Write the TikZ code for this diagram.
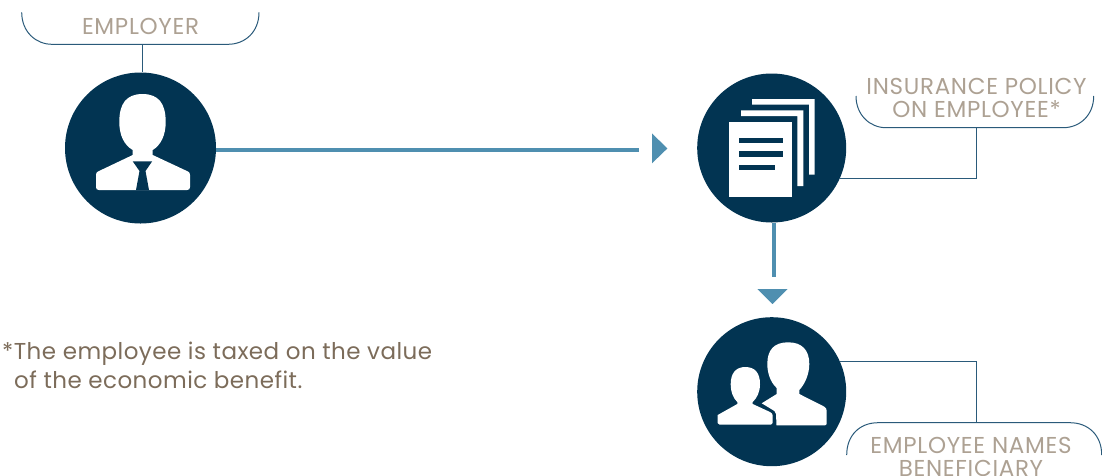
\documentclass[tikz,border=0pt]{standalone}
\usepackage{fontspec}
\setmainfont{Poppins}
\definecolor{navy}{HTML}{023452}
\definecolor{flow}{HTML}{4F8FB0}
\definecolor{thin}{HTML}{2A5A7A}
\definecolor{tan}{HTML}{ADA193}
\definecolor{note}{HTML}{7C6C5A}
\tikzset{
  disc/.style={circle,fill=navy,inner sep=0pt,minimum size=149pt},
  thinline/.style={draw=thin,line width=1pt},
  flowline/.style={draw=flow,line width=4pt},
  flowhead/.style={fill=flow},
  icon/.style={fill=white},
  hole/.style={fill=navy},
  tag/.style={text=tan,align=center,inner sep=0pt,font=\fontsize{23}{23.5}\selectfont\addfontfeatures{LetterSpace=3}},
  footnote/.style={text=note,align=left,inner sep=0pt,font=\fontsize{23}{29}\selectfont\addfontfeatures{LetterSpace=2}}
}
\begin{document}
\begin{tikzpicture}[x=1pt,y=-1pt]
\useasboundingbox (0,0) rectangle (1102,475);
% discs
\node[disc,minimum size=151pt] (emp) at (140.5,148) {};
\node[disc] (pol) at (771.7,148) {};
\node[disc] (ben) at (771.7,391.7) {};
% free ends
\coordinate (tagA) at (142,44.3);
\coordinate (tagB) at (976.7,127.7);
\coordinate (tagC) at (976,422.7);
\coordinate (endA) at (639,150);
\coordinate (endB) at (774,276.7);
% brackets
\draw[thinline] (21.7,12.3) .. controls (21.7,32) and (36,44.3) .. (52,44.3) -- (228,44.3) .. controls (245,44.3) and (259,32) .. (259,12.3);
\draw[thinline] (856,96) .. controls (856,115) and (870,127.7) .. (886,127.7) -- (1063,127.7) .. controls (1080,127.7) and (1093.7,115) .. (1093.7,96);
\draw[thinline] (846.7,455) .. controls (846.7,435) and (860,422.7) .. (878,422.7) -- (1070,422.7) .. controls (1088,422.7) and (1101.7,435) .. (1101.7,455);
% connectors
\draw[thinline] (tagA) -- (emp.north -| tagA);
\draw[thinline] (tagB) |- (pol.-24.6);
\draw[thinline] (tagC) |- (ben.24.6);
\draw[flowline] (emp.east |- endA) -- (endA);
\draw[flowline] (pol.south -| endB) -- (endB);
\fill[flowhead] (652,133.3) -- (667.3,148.5) -- (652,163.3) -- cycle;
\fill[flowhead] (757.3,289) -- (787.7,289) -- (772.5,304) -- cycle;
% employer icon
\fill[icon] (132.7,150) .. controls (124,145) and (119.3,135) .. (119.3,122) .. controls (119.3,104) and (126,94) .. (142.5,94) .. controls (159,94) and (165.7,104) .. (165.7,122) .. controls (165.7,135) and (161,145) .. (152.7,150) -- (152.7,155) -- (188,171.5) .. controls (189.5,172.5) and (190,173) .. (190,175) -- (190,187) .. controls (190,189) and (189,190) .. (187,190) -- (99,190) .. controls (97,190) and (96,189) .. (96,187) -- (96,175) .. controls (96,173) and (96.5,172.5) .. (98,171.5) -- (132.7,155) -- cycle;
\fill[hole] (132.7,161.3) -- (152.2,161.3) -- (145.5,171) -- (149,190) -- (136,190) -- (139.5,171) -- cycle;
% policy icon
\fill[icon] (752,99) -- (814.7,99) -- (814.7,174.7) -- (809,174.7) -- (809,104.7) -- (752,104.7) -- cycle;
\fill[icon] (741,110.3) -- (803.3,110.3) -- (803.3,186) -- (797.3,186) -- (797.3,116) -- (741,116) -- cycle;
\fill[icon] (729.3,121.7) rectangle (792,197.3);
\fill[hole] (738.7,137.7) rectangle (783,143.3);
\fill[hole] (738.7,151) rectangle (783,157);
\fill[hole] (738.7,164.7) rectangle (775,170.3);
% beneficiary icon
\fill[icon] (737.3,402) .. controls (733,398) and (730.7,392) .. (730.7,384) .. controls (730.7,373) and (736,367) .. (745.3,367) .. controls (755,367) and (760,373) .. (760,384) .. controls (760,392) and (757,398) .. (752.7,402) -- (752.7,404) -- (770,412) .. controls (772,413) and (772.7,414) .. (772.7,416) -- (772.7,423) .. controls (772.7,424.2) and (772,424.7) .. (771,424.7) -- (719.5,424.7) .. controls (718.2,424.7) and (717.7,424) .. (717.7,423) -- (717.7,415) -- (737.3,404) -- cycle;
\fill[icon] (776.7,388) .. controls (770,382) and (767.3,372) .. (767.3,364) .. controls (767.3,350) and (774,342.3) .. (788,342.3) .. controls (802,342.3) and (809.3,350) .. (809.3,364) .. controls (809.3,374) and (805,384) .. (799.3,390) -- (799.3,394) -- (824,406.5) .. controls (826,407.5) and (826.7,409) .. (826.7,411) -- (826.7,423) .. controls (826.7,424.6) and (826,425.3) .. (825,425.3) -- (776.5,425.3) -- (776,414) .. controls (775.5,411.5) and (774,410.5) .. (772,409.5) -- (761.7,403.3) -- (776.7,394) -- cycle;
% texts
\node[tag] (lblA) at (140.5,26.5) {EMPLOYER};
\node[tag] (lblB) at (976.5,98) {INSURANCE POLICY\\ON EMPLOYEE*};
\node[tag] (lblC) at (971,457) {EMPLOYEE NAMES\\BENEFICIARY};
\node[footnote,anchor=north west] (fn) at (2,342) {*The employee is taxed on the value\\\hspace*{12pt}of the economic benefit.};
\end{tikzpicture}
\end{document}
